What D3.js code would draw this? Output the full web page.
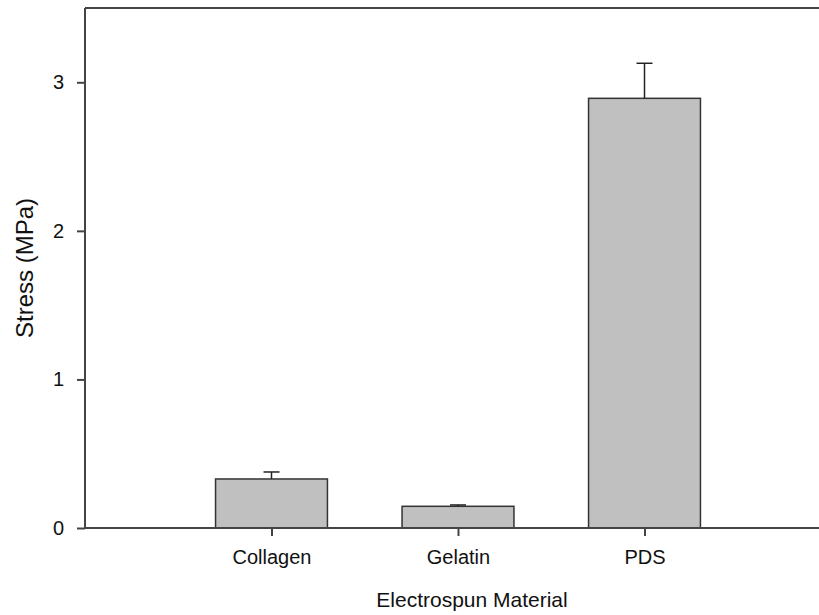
<!DOCTYPE html>
<html><head><meta charset="utf-8">
<script src="https://cdn.jsdelivr.net/npm/d3@7"></script>
<style>body{margin:0;background:#fff}svg{display:block}</style>
</head><body>
<svg id="c" width="819" height="615"></svg>
<script>
const categories = ["Collagen", "Gelatin", "PDS"];
const means = [0.33, 0.146, 2.892];
const errors = [0.047, 0.009, 0.236];
const yTicks = [0, 1, 2, 3];
const xTitle = "Electrospun Material";
const yTitle = "Stress (MPa)";

(function () {
const svg = d3.select("#c");
const mLeft = 85, mTop = 8, mBottom = 528, mRight = 831;
const x = d3.scaleLinear().domain([0, categories.length + 1]).range([mLeft, mRight]);
const band = x(1) - x(0);
const bw = band * 0.6;
const y = d3.scaleLinear().domain([0, 3.5]).range([mBottom, mTop]);
const font = "Liberation Sans, Arial, sans-serif";
const axisColor = "#444";

// bars
svg.selectAll("rect.bar").data(categories).enter().append("rect")
  .attr("class", "bar")
  .attr("x", (d, i) => x(i + 1) - bw / 2)
  .attr("y", (d, i) => y(means[i]))
  .attr("width", bw)
  .attr("height", (d, i) => y(0) - y(means[i]))
  .attr("fill", "#c0c0c0").attr("stroke", "#333").attr("stroke-width", 1.5);

// error bars
const eb = svg.append("g").attr("stroke", "#222").attr("stroke-width", 1.5);
categories.forEach((c, i) => {
  const cx = x(i + 1);
  eb.append("line").attr("x1", cx).attr("x2", cx).attr("y1", y(means[i])).attr("y2", y(means[i] + errors[i]));
  eb.append("line").attr("x1", cx - 8).attr("x2", cx + 8).attr("y1", y(means[i] + errors[i])).attr("y2", y(means[i] + errors[i]));
});

// frame
const fr = svg.append("g").attr("stroke", axisColor).attr("stroke-width", 2).attr("fill", "none");
fr.append("line").attr("x1", mLeft).attr("x2", mRight).attr("y1", mTop).attr("y2", mTop);
fr.append("line").attr("x1", mLeft).attr("x2", mRight).attr("y1", mBottom).attr("y2", mBottom);
fr.append("line").attr("x1", mLeft).attr("x2", mLeft).attr("y1", mTop).attr("y2", mBottom);

// y axis
const yAxis = d3.axisLeft(y).tickValues(yTicks).tickSize(8).tickPadding(13).tickFormat(d3.format("d"));
const gy = svg.append("g").attr("transform", `translate(${mLeft},0)`).call(yAxis);
gy.select(".domain").remove();
gy.selectAll(".tick line").attr("stroke", axisColor).attr("stroke-width", 2);
gy.selectAll(".tick text").attr("font-family", font).attr("font-size", 20).attr("fill", "#111");

// x axis
const xAxis = d3.axisBottom(x).tickValues(categories.map((d, i) => i + 1)).tickSize(8).tickPadding(14)
  .tickFormat((d) => categories[d - 1]);
const gx = svg.append("g").attr("transform", `translate(0,${mBottom})`).call(xAxis);
gx.select(".domain").remove();
gx.selectAll(".tick line").attr("stroke", axisColor).attr("stroke-width", 2);
gx.selectAll(".tick text").attr("font-family", font).attr("font-size", 20).attr("fill", "#111");

// titles
svg.append("text").attr("x", 472).attr("y", 607).attr("text-anchor", "middle")
  .attr("font-family", font).attr("font-size", 21).attr("fill", "#111").text(xTitle);
svg.append("text").attr("transform", "translate(33,268) rotate(-90)").attr("text-anchor", "middle")
  .attr("font-family", font).attr("font-size", 24).attr("fill", "#111").text(yTitle);
})();
</script>
</body></html>
